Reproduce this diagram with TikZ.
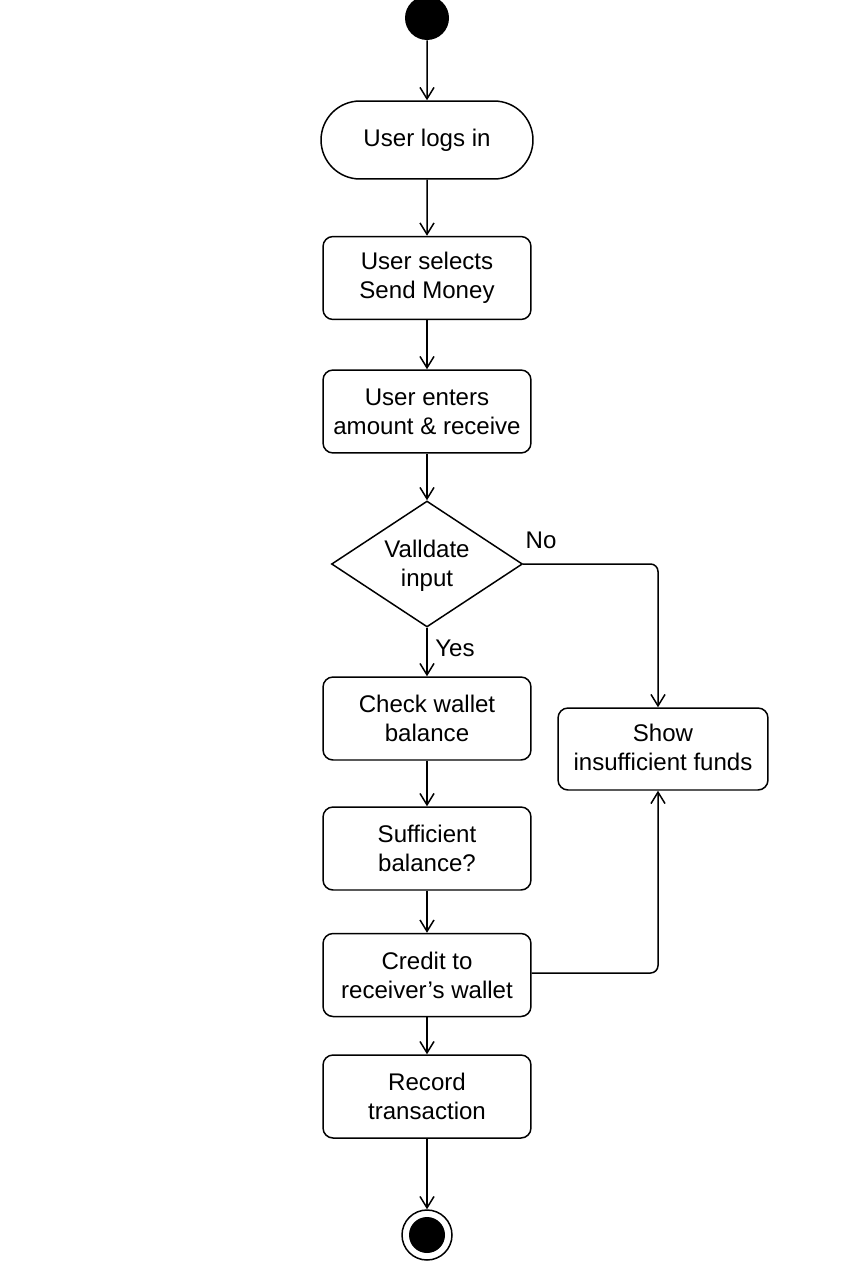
\documentclass[tikz,border=0pt]{standalone}
\usepackage{fontspec}
\setmainfont{Liberation Sans}
\usetikzlibrary{shapes.misc,shapes.geometric,arrows.meta}
\begin{document}
\begin{tikzpicture}[x=0.02cm,y=-0.02cm,
  every node/.style={font=\fontsize{13.7}{16.4}\selectfont, align=center},
  act/.style={draw, line width=0.85pt, rounded corners=0.2cm, minimum width=4.16cm, minimum height=1.66cm, inner sep=0pt},
  term/.style={draw, line width=0.85pt, rounded rectangle, minimum width=4.24cm, minimum height=1.56cm, inner sep=0pt},
  dec/.style={draw, line width=0.85pt, diamond, aspect=1.52, minimum width=3.82cm, minimum height=2.52cm, inner sep=0pt},
  flow/.style={draw, line width=0.85pt, -{Straight Barb[length=6.5pt,width=8pt,line width=0.85pt]}, rounded corners=0.15cm},
  lbl/.style={inner sep=0pt}]
\useasboundingbox (0,0) rectangle (853,1280);
\node[circle, fill=black, minimum size=0.88cm, inner sep=0pt] (start) at (427,18) {};
\node[term] (login) at (427,140) {User logs in};
\node[act] (select) at (427,278) {User selects\\Send Money};
\node[act] (enter) at (427,411.5) {User enters\\amount \& receive};
\node[dec] (valid) at (427,564) {};
\node (validtext) at (427,566) {Valldate\\input};
\node[act] (check) at (427,718.5) {Check wallet\\balance};
\node[act] (suff) at (427,848.5) {Sufficient\\balance?};
\node[act] (credit) at (427,975) {Credit to\\receiver’s wallet};
\node[act] (record) at (427,1096.5) {Record\\transaction};
\node[act, minimum width=4.2cm, minimum height=1.64cm] (show) at (663,749) {};
\node (showtext) at (663,747) {Show\\insufficient funds};
\node[circle, draw, line width=0.85pt, minimum size=1.0cm, inner sep=0pt] (end) at (427,1235) {};
\node[circle, fill=black, minimum size=0.72cm, inner sep=0pt] (endin) at (427,1235) {};
\coordinate (c1) at (658,564);
\coordinate (c2) at (658,973);
\node[lbl] (no) at (541,540) {No};
\node[lbl] (yes) at (455,648) {Yes};
\draw[flow] (start) -- (login);
\draw[flow] (login) -- (select);
\draw[flow] (select) -- (enter);
\draw[flow] (enter) -- (valid);
\draw[flow] (valid) -- (check);
\draw[flow] (valid.east) -- (c1) -- (c1 |- show.north);
\draw[flow] (check) -- (suff);
\draw[flow] (suff) -- (credit);
\draw[flow] (credit.east |- c2) -- (c2) -- (c2 |- show.south);
\draw[flow] (credit) -- (record);
\draw[flow] (record) -- (end);
\end{tikzpicture}
\end{document}
